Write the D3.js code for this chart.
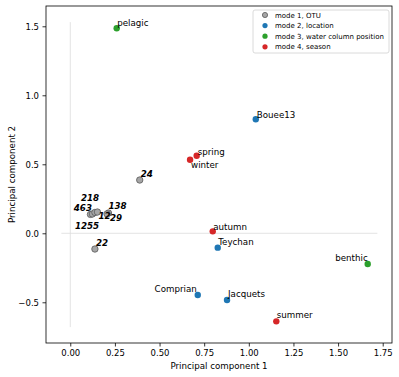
<!DOCTYPE html>
<html>
<head>
<meta charset="utf-8">
<script src="https://cdn.jsdelivr.net/npm/d3@7"></script>
<style>
  body { margin: 0; background: #fff; }
  text { font-family: "DejaVu Sans", sans-serif; fill: #000; }
</style>
</head>
<body>
<div id="chart"></div>
<script>
// PCA coordinates
const otuNames = ["24", "22", "463", "1255", "218", "12", "138", "29"];
const otuX = [0.389, 0.138, 0.113, 0.124, 0.138, 0.152, 0.214, 0.206];
const otuY = [0.386, -0.114, 0.137, 0.140, 0.151, 0.154, 0.147, 0.140];

const locationNames = ["Bouee13", "Teychan", "Comprian", "Jacquets"];
const locationX = [1.039, 0.826, 0.714, 0.878];
const locationY = [0.826, -0.104, -0.447, -0.483];

const waterNames = ["pelagic", "benthic"];
const waterX = [0.26, 1.666];
const waterY = [1.486, -0.222];

const seasonNames = ["spring", "winter", "autumn", "summer"];
const seasonX = [0.708, 0.671, 0.798, 1.154];
const seasonY = [0.562, 0.533, 0.014, -0.638];

const legendLabels = ["mode 1, OTU", "mode 2, location", "mode 3, water column position", "mode 4, season"];
const xTicks = [0, 0.25, 0.5, 0.75, 1.0, 1.25, 1.5, 1.75];
const yTicks = [-0.5, 0, 0.5, 1.0, 1.5];

// label placement (pixel offsets from the point, text anchor)
const labelOffsets = {
    "24": [1, -3, "start"], "22": [1, -3, "start"],
    "463": [1.5, -3, "end"], "1255": [-17.5, 15, "start"], "218": [-14, -11.5, "start"],
    "12": [1, 6.5, "start"], "138": [0, -4.5, "start"], "29": [3, 7, "start"],
    "Bouee13": [1, -1, "start"], "Teychan": [0.5, -3, "start"],
    "Comprian": [-1, -3, "end"], "Jacquets": [1, -3, "start"],
    "pelagic": [0.5, -2, "start"], "benthic": [0, -3, "end"],
    "spring": [1, -1, "start"], "winter": [1, 8, "start"],
    "autumn": [0.5, -1.5, "start"], "summer": [0.5, -3, "start"]
};

const W = 399, H = 377;
const mLeft = 46, mRight = 392, mTop = 6, mBottom = 343;

const x = d3.scaleLinear().domain([-0.136, 1.802]).range([mLeft, mRight]);
const y = d3.scaleLinear().domain([-0.795, 1.647]).range([mBottom, mTop]);

const svg = d3.select("#chart").append("svg")
    .attr("width", W).attr("height", H);

// reference lines through the origin
svg.append("line")
    .attr("x1", x(0)).attr("x2", x(0))
    .attr("y1", y(1.53)).attr("y2", y(-0.68))
    .attr("stroke", "#dcdcdc").attr("stroke-width", 0.8);
svg.append("line")
    .attr("x1", x(-0.05)).attr("x2", x(1.72))
    .attr("y1", y(0)).attr("y2", y(0))
    .attr("stroke", "#dcdcdc").attr("stroke-width", 0.8);

// build groups
const groups = [
    { names: otuNames, xs: otuX, ys: otuY, fill: "#a6a6a6", stroke: "#5a5a5a", otu: true },
    { names: locationNames, xs: locationX, ys: locationY, fill: "#1f77b4", stroke: "none" },
    { names: waterNames, xs: waterX, ys: waterY, fill: "#2ca02c", stroke: "none" },
    { names: seasonNames, xs: seasonX, ys: seasonY, fill: "#d62728", stroke: "none" }
];

groups.forEach(g => {
    const pts = g.names.map((n, i) => ({ name: n, x: g.xs[i], y: g.ys[i] }));
    svg.append("g").selectAll("circle")
        .data(pts).enter().append("circle")
        .attr("cx", d => x(d.x)).attr("cy", d => y(d.y))
        .attr("r", 3.2)
        .attr("fill", g.fill)
        .attr("stroke", g.stroke).attr("stroke-width", 0.8);
    svg.append("g").selectAll("text")
        .data(pts).enter().append("text")
        .attr("x", d => x(d.x) + labelOffsets[d.name][0])
        .attr("y", d => y(d.y) + labelOffsets[d.name][1])
        .attr("text-anchor", d => labelOffsets[d.name][2])
        .style("font-size", "8.7px")
        .style("font-weight", g.otu ? "bold" : "normal")
        .style("font-style", g.otu ? "italic" : "normal")
        .text(d => d.name);
});

// axes
const xAxis = svg.append("g")
    .attr("transform", `translate(0,${mBottom})`)
    .call(d3.axisBottom(x).tickValues(xTicks).tickFormat(d3.format(".2f")).tickSize(3.5).tickPadding(3.5));
const yAxis = svg.append("g")
    .attr("transform", `translate(${mLeft},0)`)
    .call(d3.axisLeft(y).tickValues(yTicks).tickFormat(d => d3.format(".1f")(d).replace("-", "\u2212")).tickSize(3.5).tickPadding(3.5));
[xAxis, yAxis].forEach(a => {
    a.select(".domain").remove();
    a.selectAll(".tick line").attr("stroke", "#000").attr("stroke-width", 0.8);
    a.selectAll(".tick text").style("font-size", "8.5px").style("font-family", "DejaVu Sans").attr("fill", "#000");
});

// frame
svg.append("rect")
    .attr("x", mLeft).attr("y", mTop)
    .attr("width", mRight - mLeft).attr("height", mBottom - mTop)
    .attr("fill", "none").attr("stroke", "#000").attr("stroke-width", 0.8);

// axis titles
svg.append("text")
    .attr("x", (mLeft + mRight) / 2).attr("y", 369)
    .attr("text-anchor", "middle").style("font-size", "8.7px")
    .text("Principal component 1");
svg.append("text")
    .attr("transform", `translate(15,${(mTop + mBottom) / 2}) rotate(-90)`)
    .attr("text-anchor", "middle").style("font-size", "8.7px")
    .text("Principal component 2");

// legend
const legend = svg.append("g");
legend.append("rect")
    .attr("x", 253).attr("y", 10).attr("width", 136).attr("height", 43)
    .attr("rx", 2).attr("fill", "#fff").attr("fill-opacity", 0.8)
    .attr("stroke", "#d0d0d0").attr("stroke-width", 0.8);
legendLabels.forEach((lab, i) => {
    const ly = 15 + i * 10.6;
    legend.append("circle")
        .attr("cx", 265).attr("cy", ly).attr("r", 2.6)
        .attr("fill", groups[i].fill)
        .attr("stroke", groups[i].stroke).attr("stroke-width", 0.8);
    legend.append("text")
        .attr("x", 275).attr("y", ly + 2.5)
        .style("font-size", "7px")
        .text(lab);
});
</script>
</body>
</html>
